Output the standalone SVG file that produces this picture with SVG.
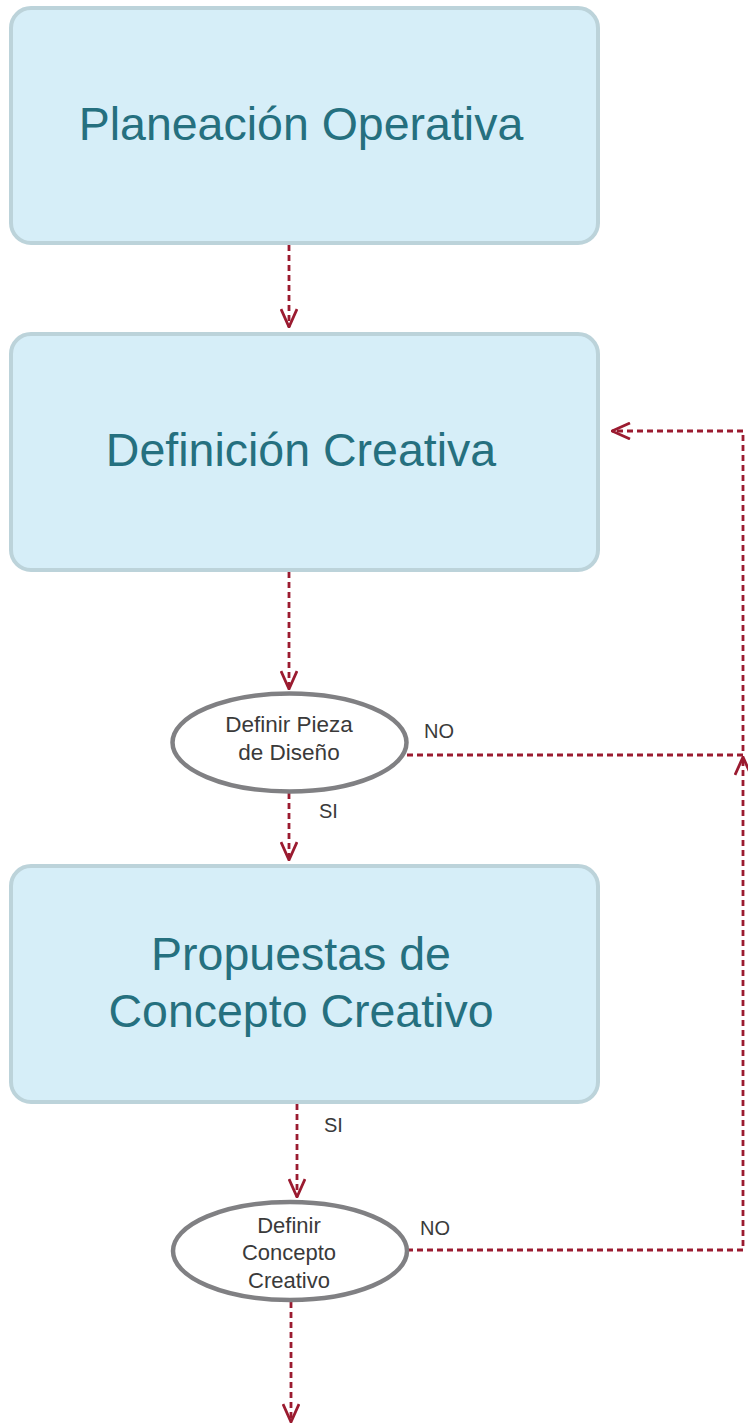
<svg xmlns="http://www.w3.org/2000/svg" width="748" height="1425" viewBox="0 0 748 1425">
<style>
.box{fill:#d6eef8;stroke:#bcd3da;stroke-width:4}
.btxt{font-family:"Liberation Sans",Arial,sans-serif;font-size:46.5px;fill:#25707f;text-anchor:middle}
.dec{fill:#ffffff;stroke:#808083;stroke-width:4.5}
.dtxt{font-family:"Liberation Sans",Arial,sans-serif;font-size:22.5px;fill:#3a3a3a;text-anchor:middle}
.dtxt2{font-family:"Liberation Sans",Arial,sans-serif;font-size:22px;fill:#3a3a3a;text-anchor:middle}
.lbl{font-family:"Liberation Sans",Arial,sans-serif;font-size:20px;fill:#3a3a3a}
.con{fill:none;stroke:#9b1b30;stroke-width:2.8;stroke-dasharray:6 4}
</style>
<defs>
<marker id="arr" viewBox="0 0 20 18" refX="19" refY="9" markerWidth="20" markerHeight="18" markerUnits="userSpaceOnUse" orient="auto">
<path d="M1,1 L19,9 L1,17" fill="none" stroke="#9b1b30" stroke-width="2.8"/>
</marker>
</defs>
<g id="connectors">
<path class="con" d="M289,245 V327" marker-end="url(#arr)"/>
<path class="con" d="M289,572 V689" marker-end="url(#arr)"/>
<path class="con" d="M289,793 V860" marker-end="url(#arr)"/>
<path class="con" d="M407,755 H743 V431 H612" marker-end="url(#arr)"/>
<path class="con" d="M297,1104 V1197" marker-end="url(#arr)"/>
<path class="con" d="M407,1250 H743 V757" marker-end="url(#arr)"/>
<path class="con" d="M291,1302 V1422" marker-end="url(#arr)"/>
</g>
<g id="planeacion">
<rect class="box" x="11" y="8" width="587" height="235" rx="20"/>
<text class="btxt" x="301" y="140">Planeación Operativa</text>
</g>
<g id="definicion">
<rect class="box" x="11" y="334" width="587" height="236" rx="20"/>
<text class="btxt" x="301" y="466">Definición Creativa</text>
</g>
<g id="pieza">
<ellipse class="dec" cx="289.5" cy="742.5" rx="117" ry="49"/>
<text class="dtxt" x="289" y="732">Definir Pieza</text>
<text class="dtxt" x="289" y="760">de Diseño</text>
</g>
<g id="propuestas">
<rect class="box" x="11" y="866" width="587" height="236" rx="20"/>
<text class="btxt" x="301" y="970">Propuestas de</text>
<text class="btxt" x="301" y="1027">Concepto Creativo</text>
</g>
<g id="concepto">
<ellipse class="dec" cx="290" cy="1251" rx="117" ry="49"/>
<text class="dtxt2" x="289" y="1233">Definir</text>
<text class="dtxt2" x="289" y="1260">Concepto</text>
<text class="dtxt2" x="289" y="1288">Creativo</text>
</g>
<g id="labels">
<text class="lbl" x="424" y="738">NO</text>
<text class="lbl" x="319" y="818">SI</text>
<text class="lbl" x="324" y="1132">SI</text>
<text class="lbl" x="420" y="1235">NO</text>
</g>
</svg>
